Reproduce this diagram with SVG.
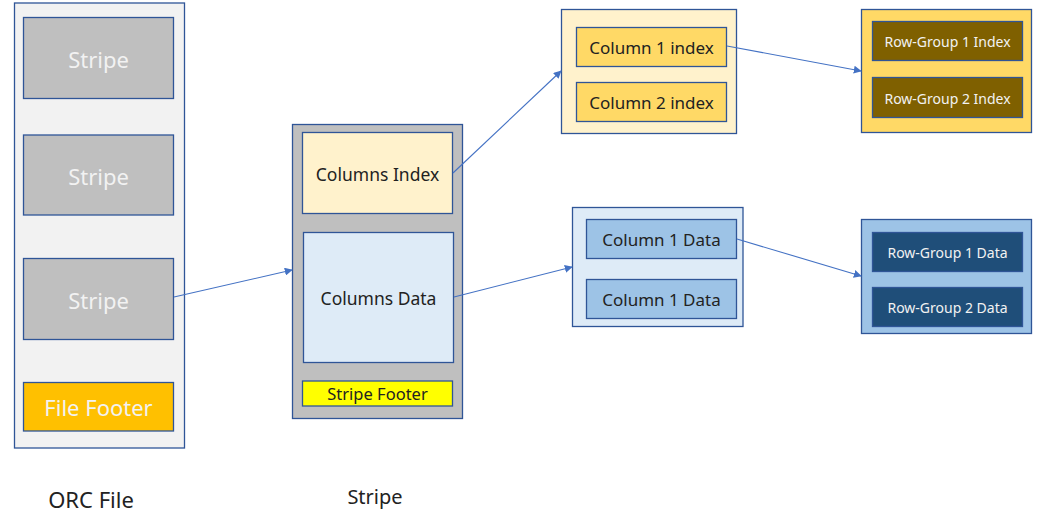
<svg xmlns="http://www.w3.org/2000/svg" width="1045" height="525" viewBox="0 0 1045 525">
<defs>
<style>
rect{stroke:#2F5597;stroke-width:1.3}
text{font-family:"Noto Sans","Open Sans","Liberation Sans",sans-serif;text-anchor:middle;dominant-baseline:central}
.w{fill:#F2F2F2}
.k{fill:#222}
.c{stroke:#4472C4;stroke-width:1.1;fill:none;marker-end:url(#ah)}
</style>
<marker id="ah" viewBox="0 0 10 10" refX="9" refY="5" markerWidth="8" markerHeight="8" orient="auto" markerUnits="userSpaceOnUse">
<path d="M0,0 L10,5 L0,10 z" fill="#4472C4"/>
</marker>
</defs>
<rect width="1045" height="525" fill="#fff" style="stroke:none"/>
<g id="orc-file">
<rect x="14.5" y="3" width="170" height="445" fill="#F2F2F2"/>
<g id="stripe1"><rect x="23.5" y="17.5" width="150" height="81" fill="#BFBFBF"/><text class="w" x="98.5" y="59" font-size="22">Stripe</text></g>
<g id="stripe2"><rect x="23.5" y="135" width="150" height="80" fill="#BFBFBF"/><text class="w" x="98.5" y="176" font-size="22">Stripe</text></g>
<g id="stripe3"><rect x="23.5" y="258.5" width="150" height="81" fill="#BFBFBF"/><text class="w" x="98.5" y="300" font-size="22">Stripe</text></g>
<g id="file-footer"><rect x="23.5" y="382.5" width="150" height="48.5" fill="#FFC000"/><text class="w" x="98.5" y="407" font-size="22">File Footer</text></g>
</g>
<g id="stripe">
<rect x="292.5" y="124.5" width="170" height="294" fill="#BFBFBF"/>
<g id="columns-index"><rect x="302.5" y="132.5" width="150" height="81" fill="#FFF2CC"/><text class="k" x="377.5" y="174" font-size="17.5">Columns Index</text></g>
<g id="columns-data"><rect x="303.5" y="232.5" width="150" height="130" fill="#DEEBF7"/><text class="k" x="378.5" y="298" font-size="17.5">Columns Data</text></g>
<g id="stripe-footer"><rect x="302.5" y="381" width="150" height="25" fill="#FFFF00"/><text class="k" x="377.5" y="393.5" font-size="16.5">Stripe Footer</text></g>
</g>
<g id="column-index-group">
<rect x="561.5" y="9.5" width="175" height="124" fill="#FFF2CC"/>
<g id="column1-index"><rect x="576.5" y="27.5" width="150" height="39" fill="#FFD966"/><text class="k" x="651.5" y="47.5" font-size="17">Column 1 index</text></g>
<g id="column2-index"><rect x="576.5" y="82.5" width="150" height="39" fill="#FFD966"/><text class="k" x="651.5" y="102.5" font-size="17">Column 2 index</text></g>
</g>
<g id="row-group-index">
<rect x="861.5" y="9.5" width="170" height="123" fill="#FFD966"/>
<g id="rg1-index"><rect x="872.5" y="21.5" width="150" height="39" fill="#7F6000"/><text class="w" x="947.5" y="41" font-size="14">Row-Group 1 Index</text></g>
<g id="rg2-index"><rect x="872.5" y="77.5" width="150" height="40" fill="#7F6000"/><text class="w" x="947.5" y="98" font-size="14">Row-Group 2 Index</text></g>
</g>
<g id="column-data-group">
<rect x="572.5" y="207.5" width="170.5" height="119" fill="#DEEBF7"/>
<g id="column1-data"><rect x="586.5" y="219.5" width="150" height="39" fill="#9DC3E6"/><text class="k" x="661.5" y="239.5" font-size="17">Column 1 Data</text></g>
<g id="column1-data-2"><rect x="586.5" y="279.5" width="150" height="39" fill="#9DC3E6"/><text class="k" x="661.5" y="299.5" font-size="17">Column 1 Data</text></g>
</g>
<g id="row-group-data">
<rect x="861.5" y="219.5" width="170" height="114" fill="#9DC3E6"/>
<g id="rg1-data"><rect x="872.5" y="232.5" width="150" height="39" fill="#1F4E79"/><text class="w" x="947.5" y="252.5" font-size="14">Row-Group 1 Data</text></g>
<g id="rg2-data"><rect x="872.5" y="287.5" width="150" height="39" fill="#1F4E79"/><text class="w" x="947.5" y="307.5" font-size="14">Row-Group 2 Data</text></g>
</g>
<g id="labels">
<text class="k" x="91" y="499" font-size="22">ORC File</text>
<text class="k" x="375" y="496" font-size="20">Stripe</text>
</g>
<g id="connectors">
<line class="c" x1="174" y1="297" x2="292" y2="270"/>
<line class="c" x1="453" y1="173" x2="561" y2="71"/>
<line class="c" x1="454" y1="297" x2="572" y2="267"/>
<line class="c" x1="727" y1="46" x2="861" y2="71"/>
<line class="c" x1="737" y1="239" x2="861" y2="276"/>
</g>
</svg>
